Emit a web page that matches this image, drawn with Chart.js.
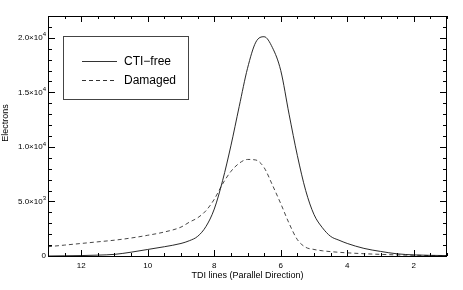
<!DOCTYPE html>
<html>
<head>
<meta charset="utf-8">
<script src="https://cdn.jsdelivr.net/npm/chart.js@4"></script>
<style>
  html, body { margin: 0; padding: 0; background: #fff; }
  #wrap { width: 463px; height: 290px; }
</style>
</head>
<body>
<div id="wrap"><canvas id="myChart" width="463" height="290"></canvas></div>
<script>
// datos
const tdiLines = [13, 12.5, 12, 11.5, 11, 10.5, 10, 9.5, 9, 8.75, 8.5, 8.25, 8, 7.75, 7.5, 7.25, 7, 6.75, 6.5, 6.25, 6, 5.75, 5.5, 5.25, 5, 4.75, 4.5, 4.25, 4, 3.5, 3, 2.5, 2, 1.5, 1];
const ctiFree = [0, 20, 40, 80, 150, 350, 600, 850, 1150, 1400, 1800, 2700, 4300, 6900, 10100, 13700, 17200, 19600, 20100, 19100, 17000, 13000, 9200, 6000, 3800, 2600, 1800, 1450, 1150, 700, 420, 200, 100, 60, 40];
const damaged = [850, 1000, 1150, 1300, 1450, 1650, 1900, 2200, 2650, 3100, 3500, 4150, 5200, 6600, 7750, 8500, 8850, 8800, 8100, 6500, 4800, 3000, 1500, 800, 600, 480, 400, 340, 290, 210, 150, 100, 70, 40, 20];

const xMajorTicks = [12, 10, 8, 6, 4, 2];
const yMajorTicks = [0, 5000, 10000, 15000, 20000];
const yTickLabels = ['0', '5.0×10^3', '1.0×10^4', '1.5×10^4', '2.0×10^4'];
const seriesNames = ['CTI\u2212free', 'Damaged'];

const FONT = '"Liberation Sans", Arial, Helvetica, sans-serif';

function puntos(xs, ys) {
    let datos = [];
    for (let i = 0; i < xs.length; i++) {
        datos.push({ x: xs[i], y: ys[i] });
    }
    return datos;
}

// ejes al estilo IDL: caja, marcas hacia dentro, etiquetas
const ejesIDL = {
    id: 'ejesIDL',
    afterDraw(chart) {
        const ctx = chart.ctx;
        const a = chart.chartArea;
        const sx = chart.scales.x;
        const sy = chart.scales.y;
        ctx.save();
        ctx.strokeStyle = '#000';
        ctx.lineWidth = 1;
        ctx.strokeRect(Math.round(a.left) + 0.5, Math.round(a.top) + 0.5,
            Math.round(a.right - a.left) - 1, Math.round(a.bottom - a.top));

        ctx.beginPath();
        // marcas x (cada 0.5, mayores cada 2)
        for (let v = 1; v <= 13.001; v += 0.5) {
            let px = Math.round(sx.getPixelForValue(v)) + 0.5;
            let mayor = xMajorTicks.includes(v);
            let len = mayor ? 6 : 3;
            ctx.moveTo(px, a.bottom); ctx.lineTo(px, a.bottom - len);
            ctx.moveTo(px, a.top); ctx.lineTo(px, a.top + len);
        }
        // marcas y (cada 1000, mayores cada 5000)
        for (let v = 0; v <= 22000; v += 1000) {
            let py = Math.round(sy.getPixelForValue(v)) + 0.5;
            let mayor = v % 5000 === 0;
            let len = mayor ? 7 : 4;
            ctx.moveTo(a.left, py); ctx.lineTo(a.left + len, py);
            ctx.moveTo(a.right, py); ctx.lineTo(a.right - len, py);
        }
        ctx.stroke();

        ctx.fillStyle = '#000';
        ctx.font = '8px ' + FONT;
        ctx.textAlign = 'center';
        ctx.textBaseline = 'middle';
        xMajorTicks.forEach(v => {
            ctx.fillText(String(v), sx.getPixelForValue(v), a.bottom + 10);
        });

        yMajorTicks.forEach((v, i) => {
            let py = sy.getPixelForValue(v);
            let partes = yTickLabels[i].split('^');
            let xr = a.left - 2;
            ctx.textAlign = 'right';
            if (partes.length > 1) {
                ctx.font = '6px ' + FONT;
                let wExp = ctx.measureText(partes[1]).width;
                ctx.fillText(partes[1], xr, py - 3);
                ctx.font = '8px ' + FONT;
                ctx.fillText(partes[0], xr - wExp, py);
            } else {
                ctx.font = '8px ' + FONT;
                ctx.fillText(partes[0], xr, py);
            }
        });

        ctx.font = '9px ' + FONT;
        ctx.textAlign = 'center';
        ctx.fillText('TDI lines (Parallel Direction)', (a.left + a.right) / 2, a.bottom + 20);
        ctx.save();
        ctx.translate(6, 123);
        ctx.rotate(-Math.PI / 2);
        ctx.fillText('Electrons', 0, 0);
        ctx.restore();

        // leyenda
        ctx.strokeStyle = '#444';
        ctx.strokeRect(63.5, 36.5, 125, 63);
        ctx.font = '12px ' + FONT;
        ctx.textAlign = 'left';
        chart.data.datasets.forEach((ds, i) => {
            let y = 61.5 + i * 19;
            ctx.beginPath();
            ctx.setLineDash(ds.borderDash || []);
            ctx.strokeStyle = '#333';
            ctx.moveTo(82, y); ctx.lineTo(117, y);
            ctx.stroke();
            ctx.setLineDash([]);
            ctx.fillText(ds.label, 124, y);
        });
        ctx.restore();
    }
};

const ctx = document.getElementById('myChart').getContext('2d');
new Chart(ctx, {
    type: 'scatter',
    data: {
        datasets: [{
            label: seriesNames[0],
            data: puntos(tdiLines, ctiFree),
            showLine: true,
            borderColor: '#111',
            borderWidth: 0.9,
            pointRadius: 0,
            cubicInterpolationMode: 'monotone'
        }, {
            label: seriesNames[1],
            data: puntos(tdiLines, damaged),
            showLine: true,
            borderColor: '#333',
            borderWidth: 0.9,
            borderDash: [4, 3],
            pointRadius: 0,
            cubicInterpolationMode: 'monotone'
        }]
    },
    options: {
        responsive: false,
        animation: false,
        layout: { padding: { left: 48, right: 16, top: 16, bottom: 34 } },
        plugins: { legend: { display: false }, tooltip: { enabled: false } },
        scales: {
            x: { type: 'linear', reverse: true, min: 1, max: 13, display: false },
            y: { type: 'linear', min: 0, max: 22000, display: false }
        }
    },
    plugins: [ejesIDL]
});
</script>
</body>
</html>
